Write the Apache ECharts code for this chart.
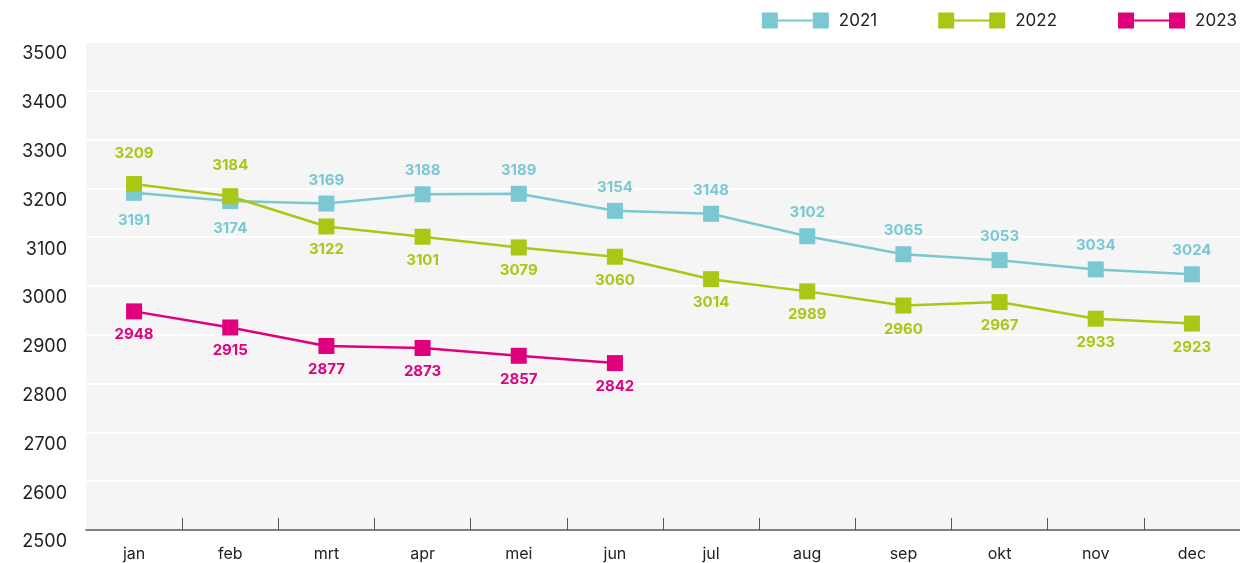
<!DOCTYPE html>
<html>
<head>
<meta charset="utf-8">
<script src="https://cdn.jsdelivr.net/npm/echarts@6/dist/echarts.min.js"></script>
<style>
    html, body { margin: 0; padding: 0; background: #fff; }
    #chart { width: 1240px; height: 563px; }
</style>
</head>
<body>
<div id="chart"></div>
<script>
var months = ['jan', 'feb', 'mrt', 'apr', 'mei', 'jun', 'jul', 'aug', 'sep', 'okt', 'nov', 'dec'];
var data2021 = [3191, 3174, 3169, 3188, 3189, 3154, 3148, 3102, 3065, 3053, 3034, 3024];
var data2022 = [3209, 3184, 3122, 3101, 3079, 3060, 3014, 2989, 2960, 2967, 2933, 2923];
var data2023 = [2948, 2915, 2877, 2873, 2857, 2842];

var font = 'Inter';
// legend icon: square - line - square
var legendIcon = 'path://M0,0h16v16h-16z M51,0h16v16h-16z M16,7h35v2h-35z';

function makeSeries(name, color, values, pos, flipFirst) {
    return {
        name: name,
        type: 'line',
        data: values.map(function (v, i) {
            if (flipFirst && i < 2) {
                return {
                    value: v,
                    label: { position: pos === 'top' ? 'bottom' : 'top', distance: pos === 'top' ? 12 : 15 }
                };
            }
            return v;
        }),
        symbol: 'rect',
        symbolSize: 16,
        color: color,
        lineStyle: { width: 2.5, color: color },
        itemStyle: { color: color },
        label: {
            show: true,
            position: pos,
            distance: 8,
            color: color,
            fontFamily: font,
            fontWeight: 'bold',
            fontSize: 15
        }
    };
}

var option = {
    backgroundColor: '#fff',
    animation: false,
    legend: {
        top: 7,
        right: -2,
        itemWidth: 67,
        itemHeight: 16,
        itemGap: 61,
        icon: legendIcon,
        textStyle: { fontFamily: font, fontSize: 17, color: '#222', padding: [0, 0, 0, 5] },
        data: ['2021', '2022', '2023']
    },
    grid: {
        left: 86,
        right: 0,
        top: 42,
        bottom: 33,
        show: true,
        backgroundColor: '#f5f5f5',
        borderWidth: 0
    },
    xAxis: {
        type: 'category',
        data: months,
        boundaryGap: true,
        axisLine: { show: true, lineStyle: { color: '#555', width: 1.5 } },
        axisTick: {
            show: true,
            inside: true,
            length: 12,
            interval: function (i) { return i !== 0; },
            lineStyle: { color: '#555', width: 1 }
        },
        axisLabel: { fontFamily: font, fontSize: 16, color: '#222', margin: 16 }
    },
    yAxis: {
        type: 'value',
        min: 2500,
        max: 3500,
        interval: 100,
        axisLine: { show: false },
        axisTick: { show: false },
        splitLine: { lineStyle: { color: '#fff', width: 2 } },
        axisLabel: {
            fontFamily: font,
            fontSize: 18,
            color: '#222',
            margin: 19,
            verticalAlign: 'top',
            padding: [3, 0, 0, 0],
            formatter: function (v) { return String(v); }
        }
    },
    series: [
        makeSeries('2021', '#7bc8d3', data2021, 'top', true),
        makeSeries('2022', '#abc614', data2022, 'bottom', true),
        makeSeries('2023', '#e0007e', data2023, 'bottom', false)
    ]
};

var chart = echarts.init(document.getElementById('chart'));
chart.setOption(option);
</script>
</body>
</html>
